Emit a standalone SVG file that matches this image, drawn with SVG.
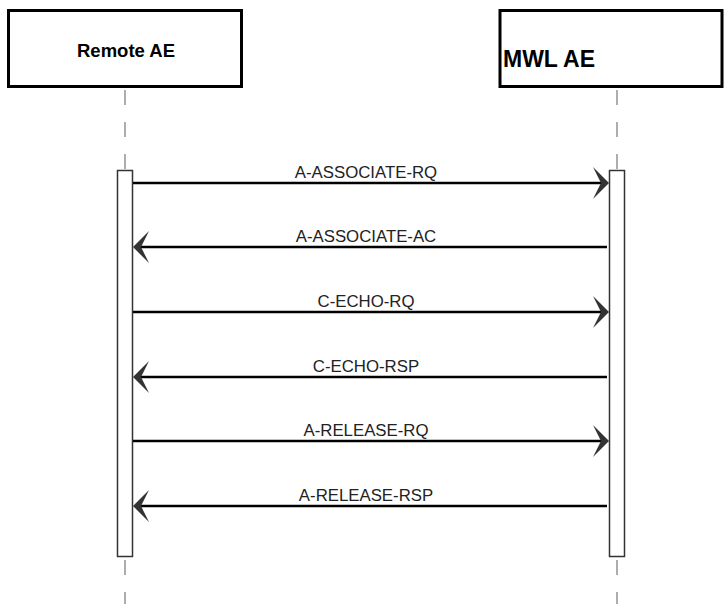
<svg xmlns="http://www.w3.org/2000/svg" width="724" height="604" viewBox="0 0 724 604">
<defs>
<style>
.head{fill:#fff;stroke:#000;stroke-width:3}
.life{stroke:#999;stroke-width:1.6;stroke-dasharray:15 17;fill:none}
.act{fill:#fff;stroke:#333;stroke-width:1.5}
.msg{stroke:#000;stroke-width:2.6;fill:none}
.ah{fill:#333}
.lbl{font-family:"Liberation Sans",Arial,sans-serif;font-size:16.8px;fill:#222;text-anchor:middle}
.ttl{font-family:"Liberation Sans",Arial,sans-serif;font-weight:bold;fill:#000}
</style>
</defs>
<rect width="724" height="604" fill="#fff"/>
<g id="lifelines">
<line class="life" x1="125" y1="90" x2="125" y2="170"/>
<line class="life" x1="125" y1="560" x2="125" y2="604"/>
<line class="life" x1="617" y1="90" x2="617" y2="170"/>
<line class="life" x1="617" y1="560" x2="617" y2="604"/>
</g>
<g id="remote-ae">
<rect class="head" x="8.5" y="10.5" width="233" height="76"/>
<text class="ttl" x="126" y="57" font-size="18.5" text-anchor="middle">Remote AE</text>
</g>
<g id="mwl-ae">
<rect class="head" x="500" y="10.5" width="222" height="76"/>
<text class="ttl" x="503" y="67" font-size="23">MWL AE</text>
</g>
<g id="activation-remote">
<rect class="act" x="117.5" y="170.5" width="15" height="386"/>
</g>
<g id="activation-mwl">
<rect class="act" x="609.5" y="170.5" width="15" height="386"/>
</g>
<g id="connectors">
<line class="msg" x1="133" y1="183" x2="604" y2="183"/>
<polygon class="ah" points="609,183 593,167 601,183 593,199"/>
<text class="lbl" x="366" y="178">A-ASSOCIATE-RQ</text>

<line class="msg" x1="607" y1="247" x2="138" y2="247"/>
<polygon class="ah" points="133,247 149,231 141,247 149,263"/>
<text class="lbl" x="366" y="242">A-ASSOCIATE-AC</text>

<line class="msg" x1="133" y1="312" x2="604" y2="312"/>
<polygon class="ah" points="609,312 593,296 601,312 593,328"/>
<text class="lbl" x="366" y="307">C-ECHO-RQ</text>

<line class="msg" x1="607" y1="377" x2="138" y2="377"/>
<polygon class="ah" points="133,377 149,361 141,377 149,393"/>
<text class="lbl" x="366" y="372">C-ECHO-RSP</text>

<line class="msg" x1="133" y1="441" x2="604" y2="441"/>
<polygon class="ah" points="609,441 593,425 601,441 593,457"/>
<text class="lbl" x="366" y="436">A-RELEASE-RQ</text>

<line class="msg" x1="607" y1="506" x2="138" y2="506"/>
<polygon class="ah" points="133,506 149,490 141,506 149,522"/>
<text class="lbl" x="366" y="501">A-RELEASE-RSP</text>
</g>
</svg>
